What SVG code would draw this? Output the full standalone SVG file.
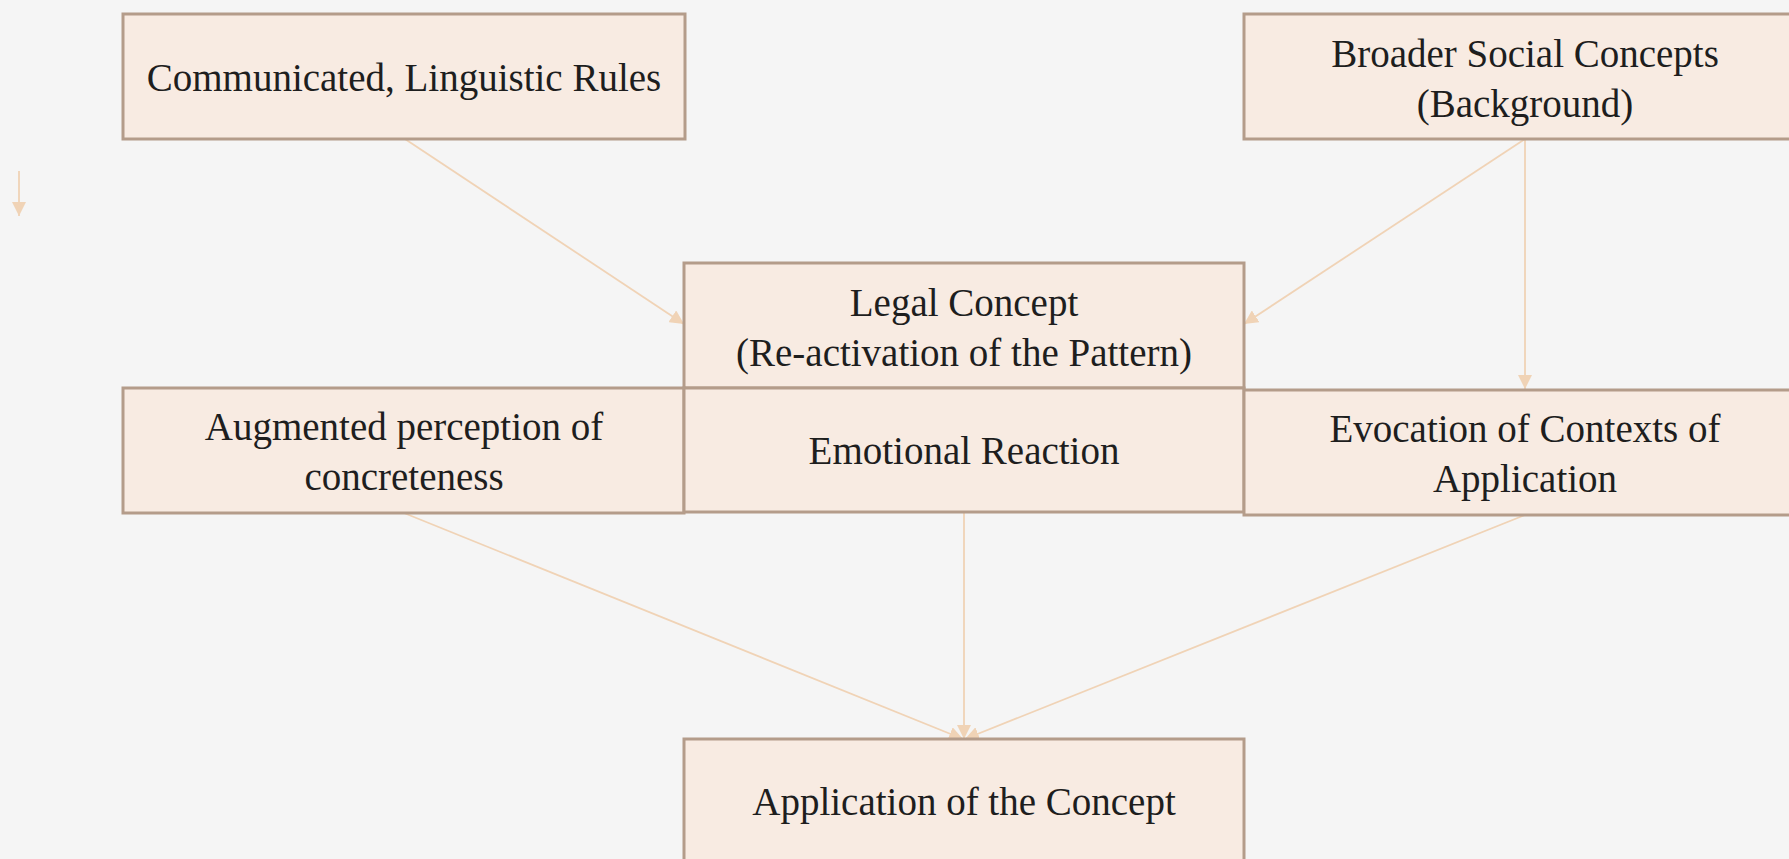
<svg xmlns="http://www.w3.org/2000/svg" width="1789" height="859" viewBox="0 0 1789 859">
<defs>
<style>
.node rect{fill:#F8EBE2;stroke:#B49C8A;stroke-width:3}
.node text{font-family:"Liberation Serif","Times New Roman",serif;font-size:39px;fill:#1E1E1E;text-anchor:middle}
.conn line{stroke:#F0D3B6;stroke-width:1.8;fill:none}
</style>
<marker id="ah" markerUnits="userSpaceOnUse" markerWidth="14" markerHeight="14" viewBox="0 0 14 14" refX="14" refY="7" orient="auto">
<path d="M0,0 L14,7 L0,14 z" fill="#F0D3B6"/>
</marker>
</defs>
<rect width="1789" height="859" fill="#F5F5F5"/>
<g id="connectors" class="conn">
<line x1="19" y1="171" x2="19" y2="216" marker-end="url(#ah)"/>
<line x1="405" y1="139" x2="684" y2="324" marker-end="url(#ah)"/>
<line x1="1525" y1="139" x2="1244" y2="324" marker-end="url(#ah)"/>
<line x1="1525" y1="139" x2="1525" y2="389" marker-end="url(#ah)"/>
<line x1="404" y1="513" x2="963" y2="739" marker-end="url(#ah)"/>
<line x1="964" y1="512" x2="964" y2="739" marker-end="url(#ah)"/>
<line x1="1525" y1="515" x2="965" y2="739" marker-end="url(#ah)"/>
</g>
<g id="n-communicated" class="node">
<rect x="123" y="14" width="562" height="125"/>
<text x="404" y="91">Communicated, Linguistic Rules</text>
</g>
<g id="n-broader" class="node">
<rect x="1244" y="14" width="562" height="125"/>
<text x="1525" y="67">Broader Social Concepts</text>
<text x="1525" y="117">(Background)</text>
</g>
<g id="n-legal" class="node">
<rect x="684" y="263" width="560" height="125"/>
<text x="964" y="316">Legal Concept</text>
<text x="964" y="366">(Re-activation of the Pattern)</text>
</g>
<g id="n-augmented" class="node">
<rect x="123" y="388" width="561" height="125"/>
<text x="404" y="440">Augmented perception of</text>
<text x="404" y="490">concreteness</text>
</g>
<g id="n-emotional" class="node">
<rect x="684" y="388" width="560" height="124"/>
<text x="964" y="464">Emotional Reaction</text>
</g>
<g id="n-evocation" class="node">
<rect x="1244" y="390" width="562" height="125"/>
<text x="1525" y="442">Evocation of Contexts of</text>
<text x="1525" y="492">Application</text>
</g>
<g id="n-application" class="node">
<rect x="684" y="739" width="560" height="125"/>
<text x="964" y="815">Application of the Concept</text>
</g>
</svg>
